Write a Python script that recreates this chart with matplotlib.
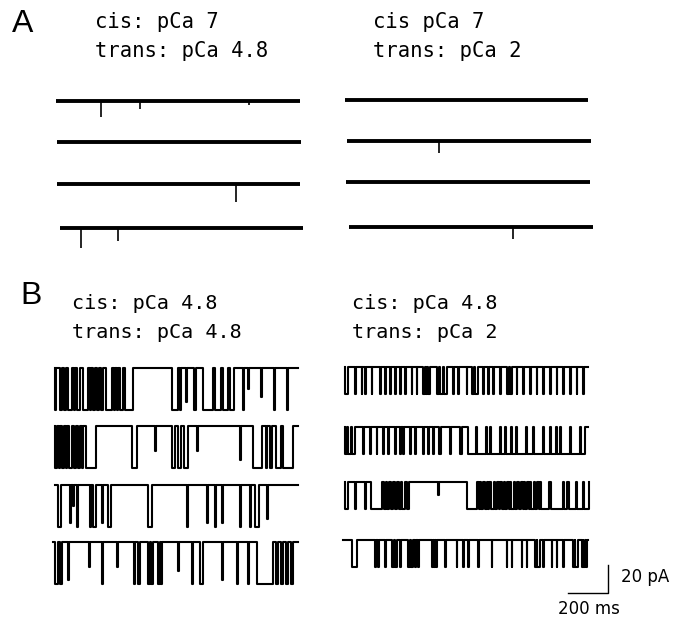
import matplotlib.pyplot as plt

W, H = 686, 617
MS_PER_PX = 5.0      # horizontal scale: 200 ms bar is 40 px
PX_PER_PA = 1.4      # vertical scale: 20 pA bar is 28 px

# ---- data (times in ms from left edge of each column, currents in pA) ----
# panel A: almost silent traces, brief closures as (time, depth)
a_left_spikes = [
    [(225, 11.5), (420, 6), (965, 3)],
    [],
    [(900, 13)],
    [(125, 14), (310, 9)],
]
a_right_spikes = [
    [],
    [(470, 8.5)],
    [],
    [(840, 8.5)],
]

# panel B: closed intervals as (start, end, fraction of full amplitude)
b_left_closures = [
    [(0, 5, 1), (25, 35, 1), (45, 55, 1), (65, 85, 1), (95, 100, 1), (110, 125, 1),
     (140, 165, 1), (175, 180, 1), (190, 200, 1), (210, 220, 1), (230, 240, 1),
     (255, 285, 1), (295, 300, 1), (310, 315, 1), (325, 340, 1), (350, 390, 1),
     (585, 615, 1), (625, 630, 1), (655, 660, 0.8), (695, 705, 1), (740, 790, 1),
     (800, 830, 1), (840, 865, 1), (875, 895, 1), (940, 945, 1), (965, 970, 0.5),
     (1030, 1035, 0.7), (1095, 1100, 1), (1160, 1165, 1)],
    [(0, 10, 1), (20, 25, 1), (35, 45, 1), (55, 60, 1), (70, 85, 1), (95, 105, 1),
     (115, 125, 1), (135, 140, 1), (155, 205, 1), (385, 410, 1), (500, 505, 0.6),
     (585, 600, 1), (615, 630, 1), (645, 665, 1), (710, 715, 0.6), (925, 930, 0.8),
     (990, 1035, 1), (1055, 1060, 1), (1075, 1085, 1), (1105, 1130, 1), (1140, 1190, 1)],
    [(15, 30, 1), (75, 80, 0.9), (90, 95, 0.5), (110, 115, 1), (175, 180, 1),
     (190, 205, 1), (235, 240, 0.9), (265, 280, 1), (465, 485, 1), (660, 665, 1),
     (760, 765, 0.9), (800, 805, 1), (835, 840, 0.9), (925, 930, 1), (975, 980, 1),
     (1000, 1020, 1), (1060, 1065, 0.8)],
    [(0, 15, 1), (25, 35, 1), (65, 70, 0.9), (170, 175, 0.6), (235, 240, 1),
     (310, 315, 0.6), (395, 400, 1), (415, 425, 1), (465, 475, 1), (480, 490, 1),
     (515, 525, 1), (530, 535, 1), (615, 620, 0.7), (685, 690, 1), (725, 740, 1),
     (835, 840, 0.9), (910, 915, 1), (965, 970, 1), (1010, 1090, 1), (1105, 1115, 1),
     (1130, 1140, 1), (1155, 1165, 1), (1180, 1190, 1)],
]
b_right_closures = [
    [(0, 15, 1), (50, 54, 1), (83, 87, 1), (100, 104, 1), (133, 137, 1), (175, 179, 1),
     (200, 204, 1), (225, 229, 1), (250, 254, 1), (275, 279, 1), (300, 304, 1),
     (333, 337, 1), (358, 362, 1), (392, 400, 1), (404, 412, 1), (416, 425, 1),
     (458, 470, 1), (474, 490, 1), (494, 508, 1), (542, 546, 1), (567, 571, 1),
     (608, 612, 1), (633, 645, 1), (650, 667, 1), (692, 696, 1), (717, 721, 1),
     (742, 746, 1), (775, 779, 1), (808, 820, 1), (824, 833, 1), (858, 862, 1),
     (892, 896, 1), (925, 929, 1), (958, 962, 1), (992, 996, 1), (1025, 1029, 1),
     (1058, 1062, 1), (1092, 1096, 1), (1125, 1129, 1), (1158, 1162, 1), (1192, 1196, 1)],
    [(0, 10, 1), (15, 30, 1), (35, 50, 1), (92, 96, 1), (125, 129, 1), (158, 162, 1),
     (192, 196, 1), (217, 221, 1), (250, 254, 1), (275, 279, 1), (292, 296, 1),
     (325, 329, 1), (350, 354, 1), (392, 396, 1), (417, 421, 1), (442, 446, 1),
     (470, 480, 1), (525, 529, 1), (575, 585, 1), (615, 656, 1), (662, 706, 1),
     (712, 723, 1), (729, 773, 1), (779, 798, 1), (804, 831, 1), (837, 856, 1),
     (862, 906, 1), (912, 940, 1), (946, 990, 1), (996, 1023, 1), (1029, 1056, 1),
     (1062, 1073, 1), (1079, 1123, 1), (1129, 1173, 1), (1179, 1200, 1)],
    [(0, 15, 1), (48, 55, 1), (98, 105, 1), (130, 185, 1), (195, 205, 1), (212, 220, 1),
     (228, 240, 1), (248, 262, 1), (270, 278, 1), (285, 300, 1), (308, 322, 1),
     (465, 470, 0.5), (608, 660, 1), (668, 675, 1), (682, 690, 1), (698, 710, 1),
     (716, 722, 1), (730, 745, 1), (752, 760, 1), (768, 775, 1), (783, 795, 1),
     (802, 810, 1), (818, 825, 1), (832, 845, 1), (852, 860, 1), (868, 880, 1),
     (888, 895, 1), (902, 910, 1), (918, 925, 1), (932, 945, 1), (952, 960, 1),
     (968, 975, 1), (982, 1020, 1), (1030, 1088, 1), (1097, 1112, 1), (1122, 1155, 1),
     (1162, 1188, 1), (1197, 1222, 1)],
    [(33, 58, 1), (150, 154, 1), (167, 171, 1), (200, 204, 1), (233, 245, 1),
     (250, 258, 1), (275, 279, 1), (317, 327, 1), (332, 342, 1), (350, 354, 1),
     (367, 371, 1), (433, 440, 1), (444, 450, 1), (453, 458, 1), (500, 504, 1),
     (558, 562, 1), (592, 596, 1), (617, 621, 1), (667, 671, 1), (733, 737, 1),
     (808, 812, 1), (833, 837, 1), (883, 887, 1), (908, 912, 1), (950, 958, 1),
     (962, 975, 1), (992, 996, 1), (1033, 1037, 1), (1058, 1062, 1), (1092, 1096, 1),
     (1142, 1148, 1), (1152, 1167, 1), (1183, 1188, 1), (1192, 1200, 1), (1203, 1208, 1)],
]
b_left_amp = 30.0
b_right_amp = 19.0
scale_ms = 200
scale_pa = 20

# ---- layout (pixel positions in the 686x617 picture) ----
a_left_rows = [101, 142, 184, 228]
a_left_spans = [(56, 300), (57, 301), (57, 300), (60, 303)]
a_right_rows = [100, 141, 182, 227]
a_right_spans = [(345, 588), (347, 591), (346, 590), (349, 593)]
b_left_rows = [368, 426, 485, 542]
b_left_spans = [(55, 298), (55, 298), (55, 298), (53, 298)]
b_right_rows = [367, 427, 482, 540]
b_right_spans = [(345, 588), (345, 588), (345, 588), (343, 588)]

fig = plt.figure(figsize=(W / 100, H / 100), dpi=100)


def make_axes(px0, px1, py0, py1, x0):
    ax = fig.add_axes([px0 / W, 1 - py1 / H, (px1 - px0) / W, (py1 - py0) / H])
    ax.set_xlim((px0 - x0) * MS_PER_PX, (px1 - x0) * MS_PER_PX)
    ax.set_ylim(0, (py1 - py0) / PX_PER_PA)
    ax.axis('off')
    return ax


def row_level(row, py1):
    return (py1 - row) / PX_PER_PA


def draw_quiet(ax, rows, spans, spikes, x0, py1):
    for row, (s, e), sp in zip(rows, spans, spikes):
        lev = row_level(row, py1)
        ax.plot([(s - x0) * MS_PER_PX, (e - x0) * MS_PER_PX], [lev, lev],
                color='black', lw=2.8, solid_capstyle='butt')
        for t, d in sp:
            ax.vlines(t, lev - d, lev, color='black', lw=1.2)


def draw_gating(ax, rows, spans, closures, amp, x0, py1):
    for row, (s, e), ev in zip(rows, spans, closures):
        top = row_level(row, py1)
        t0 = (s - x0) * MS_PER_PX
        t1 = (e - x0) * MS_PER_PX
        xs = [t0]
        ys = [top]
        for a, b, frac in sorted(ev):
            low = top - amp * frac
            xs += [a, a, b, b]
            ys += [top, low, low, top]
        xs.append(max(t1, xs[-1]))
        ys.append(top)
        ax.plot(xs, ys, color='black', lw=1.5)


ax_al = make_axes(40, 320, 85, 255, 56)
draw_quiet(ax_al, a_left_rows, a_left_spans, a_left_spikes, 56, 255)
ax_ar = make_axes(330, 610, 85, 255, 345)
draw_quiet(ax_ar, a_right_rows, a_right_spans, a_right_spikes, 345, 255)

ax_bl = make_axes(40, 320, 355, 600, 55)
draw_gating(ax_bl, b_left_rows, b_left_spans, b_left_closures, b_left_amp, 55, 600)
ax_br = make_axes(330, 640, 355, 600, 345)
draw_gating(ax_br, b_right_rows, b_right_spans, b_right_closures, b_right_amp, 345, 600)

# scale bar: corner at (608 px, 593 px)
corner_t = (608 - 345) * MS_PER_PX
corner_y = row_level(593, 600)
ax_br.plot([corner_t - scale_ms, corner_t, corner_t],
           [corner_y, corner_y, corner_y + scale_pa], color='black', lw=1.0)


def label(px, py, s, size, family='DejaVu Sans Mono', weight='normal'):
    fig.text(px / W, 1 - py / H, s, fontsize=size, fontweight=weight,
             family=family, ha='left', va='baseline', color='black')


label(12, 32, 'A', 23, 'Liberation Sans')
label(95, 28, 'cis: pCa 7', 14.8)
label(95, 57, 'trans: pCa 4.8', 14.8)
label(373, 28, 'cis pCa 7', 14.8)
label(373, 57, 'trans: pCa 2', 14.8)

label(20, 304, 'B', 23, 'Liberation Sans')
label(72, 309, 'cis: pCa 4.8', 14.5)
label(72, 338, 'trans: pCa 4.8', 14.5)
label(352, 309, 'cis: pCa 4.8', 14.5)
label(352, 338, 'trans: pCa 2', 14.5)

label(621, 582, '20 pA', 12, 'DejaVu Sans')
label(558, 614, '200 ms', 12, 'DejaVu Sans')

fig.savefig('out.png', dpi=100)
